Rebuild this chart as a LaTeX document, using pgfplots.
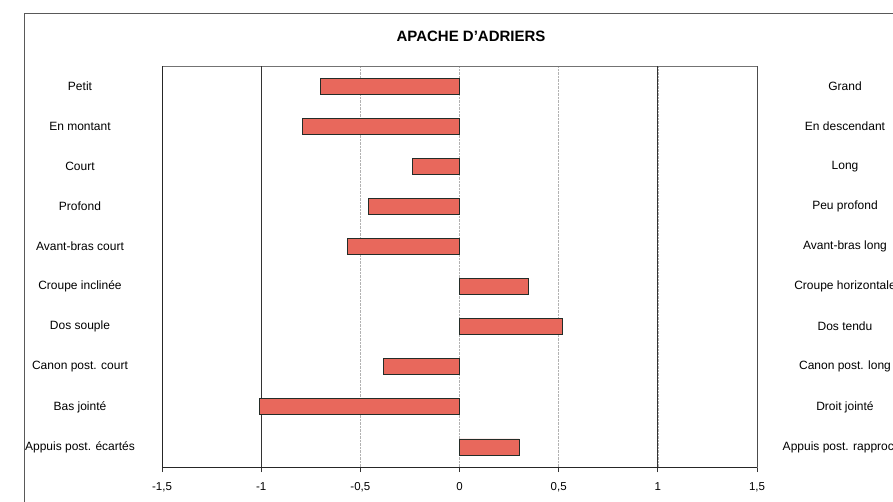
\documentclass[border=0pt]{standalone}
\usepackage{fontspec}
\setmainfont{Liberation Sans}
\setsansfont{Liberation Sans}
\usepackage{pgfplots}
\pgfplotsset{compat=1.18}
\definecolor{barfill}{RGB}{232,104,92}
\definecolor{bardraw}{RGB}{35,45,40}
\begin{document}
\begin{tikzpicture}[x=1pt,y=1pt]
\useasboundingbox (0,0) rectangle (893,501);
\draw[gray!70!black, line width=0.8pt] (24,-5) -- (24,488) -- (900,488);
\node[font=\bfseries\fontsize{15}{17}\selectfont] at (471,465) {APACHE D'ADRIERS};
\begin{axis}[at={(162pt,34pt)}, anchor=south west, width=595pt, height=401pt, scale only axis,
  xmin=-1.5, xmax=1.5, ymin=-0.5, ymax=9.5, y dir=reverse,
  xbar, bar width=16pt,
  axis line style={draw=black!55, line width=0.7pt},
  xtick={-1.5,-1,-0.5,0,0.5,1,1.5},
  xtick pos=bottom,
  xmajorgrids, grid style={gray!60, densely dotted, line width=0.6pt},
  extra x ticks={-1,1}, extra x tick labels={},
  extra x tick style={grid style={black!80, solid, line width=0.8pt}},
  tick align=outside, major tick length=5pt,
  xtick style={draw=black!80, line width=0.8pt},
  /pgf/number format/.cd, use comma, assume math mode=true, /pgfplots/.cd,
  xticklabel style={font=\fontsize{11.5}{13}\selectfont, yshift=-7pt},
  ytick={0,...,9},
  yticklabels={Petit, En montant, Court, Profond, Avant-bras court, Croupe inclinée, Dos souple, Canon post. court, Bas jointé, Appuis post. écartés},
  yticklabel style={anchor=center, xshift=-77pt, font=\fontsize{12}{14}\selectfont},
  ytick style={draw=none},
  clip=false,
]
\addplot[fill=barfill, draw=bardraw, line width=0.9pt] coordinates {
  (-0.70,0) (-0.79,1) (-0.237,2) (-0.46,3) (-0.565,4)
  (0.348,5) (0.517,6) (-0.382,7) (-1.01,8) (0.30,9)};
\draw[black!85, line width=0.9pt] (axis cs:-1.5,-0.5) -- (axis cs:-1.5,9.5) -- (axis cs:1.5,9.5);
\draw[black!70, line width=0.8pt] (axis cs:1.5,-0.5) -- (axis cs:1.5,9.5);
\begin{scope}[every node/.style={font=\fontsize{12}{14}\selectfont, xshift=88pt}]
\node at (axis cs:1.5,0) {Grand};
\node at (axis cs:1.5,1) {En descendant};
\node at (axis cs:1.5,2) {Long};
\node at (axis cs:1.5,3) {Peu profond};
\node at (axis cs:1.5,4) {Avant-bras long};
\node at (axis cs:1.5,5) {Croupe horizontale};
\node at (axis cs:1.5,6) {Dos tendu};
\node at (axis cs:1.5,7) {Canon post. long};
\node at (axis cs:1.5,8) {Droit jointé};
\node at (axis cs:1.5,9) {Appuis post. rapproché};
\end{scope}
\end{axis}
\end{tikzpicture}
\end{document}
